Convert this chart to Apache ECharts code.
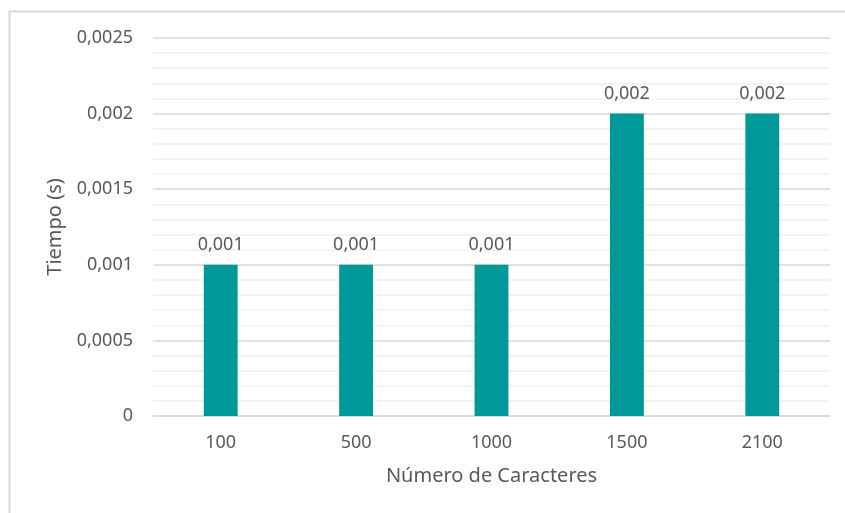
<!DOCTYPE html>
<html>
<head>
<meta charset="utf-8">
<script src="https://cdn.jsdelivr.net/npm/echarts@6/dist/echarts.min.js"></script>
<style>
  html, body { margin: 0; padding: 0; background: #fff; }
  #chart { width: 845px; height: 513px; }
</style>
</head>
<body>
<div id="chart"></div>
<script>
// datos
const categorias = ['100', '500', '1000', '1500', '2100']
const tiempos = [0.001, 0.001, 0.001, 0.002, 0.002]

const gris = '#595959'
const fuente = '"Noto Sans", "Liberation Sans", sans-serif'
const coma = v => String(v).replace('.', ',')

const chart = echarts.init(document.getElementById('chart'))
chart.setOption({
  animation: false,
  backgroundColor: '#fff',
  textStyle: { fontFamily: fuente, color: gris },
  graphic: [{
    // borde del area del grafico (sale por la derecha y abajo)
    type: 'rect',
    shape: { x: 9.5, y: 11.5, width: 900, height: 600 },
    style: { fill: 'none', stroke: '#d9d9d9', lineWidth: 2 },
    silent: true
  }],
  grid: { left: 153, right: 15, top: 38, bottom: 97 },
  xAxis: {
    type: 'category',
    data: categorias,
    name: 'Número de Caracteres',
    nameLocation: 'middle',
    nameGap: 50,
    nameTextStyle: { fontSize: 20, color: gris, fontFamily: fuente },
    axisLine: { lineStyle: { color: '#d9d9d9', width: 1.5 } },
    axisTick: { show: false },
    axisLabel: { fontSize: 18, color: gris, margin: 18, fontFamily: fuente }
  },
  yAxis: {
    type: 'value',
    min: 0,
    max: 0.0025,
    interval: 0.0005,
    name: 'Tiempo (s)',
    nameLocation: 'middle',
    nameGap: 88,
    nameTextStyle: { fontSize: 20, color: gris, fontFamily: fuente },
    axisLine: { show: false },
    axisTick: { show: false },
    axisLabel: { fontSize: 18, color: gris, margin: 20, fontFamily: fuente, formatter: coma },
    splitLine: { lineStyle: { color: '#d9d9d9', width: 1.5 } },
    minorTick: { show: false, splitNumber: 5 },
    minorSplitLine: { show: true, lineStyle: { color: '#f0f0f0', width: 1.5 } }
  },
  series: [{
    type: 'bar',
    data: tiempos,
    barWidth: '25%',
    itemStyle: { color: '#009999' },
    label: {
      show: true,
      position: 'top',
      distance: 11,
      fontSize: 18,
      color: gris,
      fontFamily: fuente,
      formatter: p => coma(p.value)
    }
  }]
})
</script>
</body>
</html>
